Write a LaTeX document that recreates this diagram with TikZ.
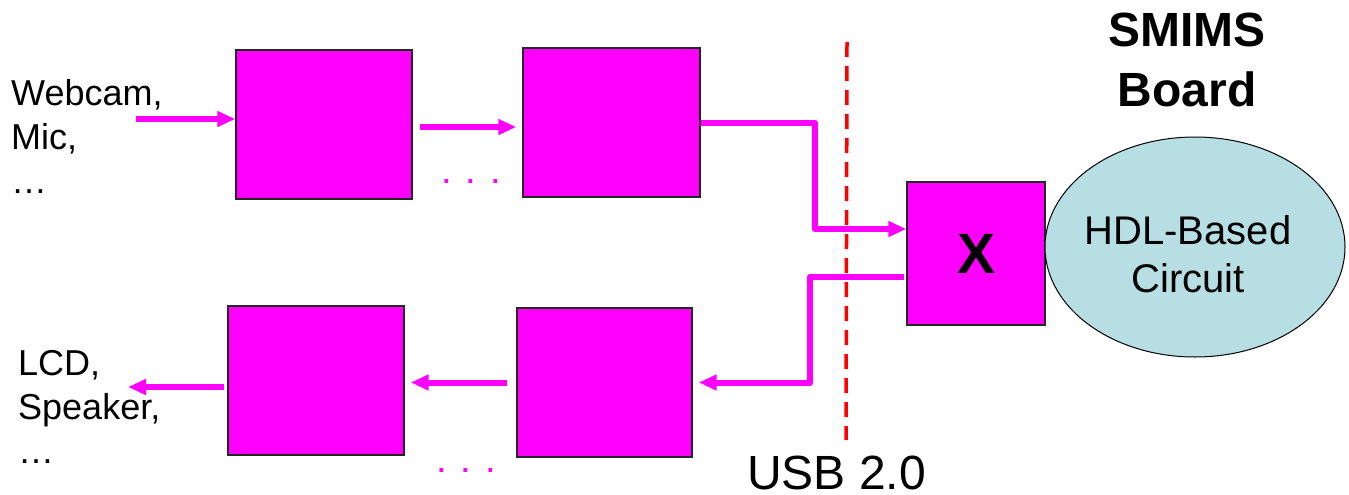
\documentclass[tikz,border=0pt]{standalone}
\usepackage{fontspec}
\setmainfont{Liberation Sans}
\usetikzlibrary{shapes.geometric,arrows.meta}
\definecolor{mag}{HTML}{FF00FF}
\definecolor{pale}{HTML}{B7DEE3}
\begin{document}
\begin{tikzpicture}[x=1pt,y=-1pt,
  mbox/.style={draw=black!85,line width=1.4pt,fill=mag,inner sep=0pt},
  conn/.style={draw=mag,line width=6pt,line join=round,-{Triangle[length=18pt,width=15pt]}},
  lbl/.style={inner sep=0pt,anchor=base west,align=left,font=\fontsize{36}{44}\selectfont},
  dots/.style={inner sep=0pt,anchor=base west,text=mag,font=\fontsize{38}{44}\selectfont}]
\useasboundingbox (0,0) rectangle (1349,495);
% boxes
\node[mbox,minimum width=176pt,minimum height=149pt] (b1) at (324,124.5) {};
\node[mbox,minimum width=177pt,minimum height=149pt] (b2) at (611.5,122.5) {};
\node[mbox,minimum width=138pt,minimum height=143pt,font=\fontsize{57}{60}\bfseries] (X) at (976,253.5) {X};
\node[mbox,minimum width=175pt,minimum height=149pt] (b3) at (604.5,382.5) {};
\node[mbox,minimum width=176pt,minimum height=149pt] (b4) at (316,380.5) {};
\node[draw=black,line width=1pt,fill=pale,ellipse,minimum width=300pt,minimum height=220pt,inner sep=0pt] (hdl) at (1195,247) {};
% texts (base anchor = last line)
\node[lbl] (src) at (11,193) {Webcam,\\Mic,\\…};
\node[lbl] (dst) at (18,463) {LCD,\\Speaker,\\…};
\node[inner sep=0pt,anchor=base,align=center,font=\fontsize{48}{59}\bfseries\selectfont] (smims) at (1187,106) {SMIMS\\Board};
\node[inner sep=0pt,anchor=base,align=center,font=\fontsize{40}{48}\selectfont] (hdltxt) at (1188,292) {HDL-Based\\Circuit};
\node[inner sep=0pt,anchor=base west,font=\fontsize{48}{58}\selectfont] (usb) at (747,489) {USB 2.0};
\node[dots] (d1) at (441,183) {. . .};
\node[dots] (d2) at (436,472) {. . .};
% usb boundary
\coordinate (ut) at (847,42);
\coordinate (ub) at (846,440);
\draw[red,line width=3.5pt,dash pattern=on 15pt off 9pt] (ut) -- (ub);
% connectors
\coordinate (in) at (136,119);
\coordinate (out) at (128,387);
\draw[conn] (in) -- (in -| b1.west);
\draw[conn] ([xshift=7pt,yshift=-2.5pt]b1.east) -- ([xshift=-6pt,yshift=-4.5pt]b2.west);
\draw[conn] (b2.east) -- ++(114,0) |- ([yshift=24.5pt]X.west);
\draw[conn] ([xshift=-2pt,yshift=-23.5pt]X.west) -- ++(-94,0) |- ([xshift=6pt]b3.east);
\draw[conn] ([xshift=-9pt]b3.west) -- ([xshift=6pt,yshift=-2pt]b4.east);
\draw[conn] ([xshift=-3pt,yshift=-6.5pt]b4.west) -- (out);
\end{tikzpicture}
\end{document}
